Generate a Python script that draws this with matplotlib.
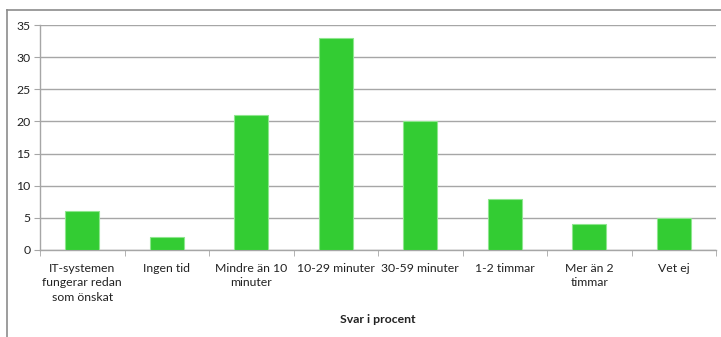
import matplotlib
matplotlib.use("Agg")
import matplotlib.pyplot as plt
from matplotlib.lines import Line2D
import numpy as np

categories = [
    "IT-systemen\nfungerar redan\nsom önskat",
    "Ingen tid",
    "Mindre än 10\nminuter",
    "10-29 minuter",
    "30-59 minuter",
    "1-2 timmar",
    "Mer än 2\ntimmar",
    "Vet ej",
]
values = [6, 2, 21, 33, 20, 8, 4, 5]
y_ticks = [0, 5, 10, 15, 20, 25, 30, 35]
x_title = "Svar i procent"

plt.rcParams["font.family"] = ["Lato", "DejaVu Sans"]

W, H = 721, 337
fig = plt.figure(figsize=(W / 100, H / 100), dpi=100)
ax = fig.add_axes([40 / W, 1 - 250 / H, (716 - 40) / W, (250 - 25) / H])

x = np.arange(len(categories))
ax.bar(x, values, width=0.4, color="#33cc33", edgecolor="#8ee68e", linewidth=0.8, zorder=3)

ax.set_xlim(-0.5, len(categories) - 0.5)
ax.set_ylim(0, 35)
ax.set_yticks(y_ticks)
ax.yaxis.grid(True, color="#a6a6a6", linewidth=1.0, zorder=0)
ax.tick_params(axis="y", length=4, color="#a6a6a6", labelsize=8.8, labelcolor="#222222", pad=3)

ax.set_xticks(x)
ax.set_xticklabels(categories, fontsize=8.8, color="#222222", linespacing=1.4, va="top")
ax.tick_params(axis="x", which="major", length=0, pad=9)
ax.set_xticks(np.arange(-0.5, len(categories)), minor=True)
ax.tick_params(axis="x", which="minor", length=4, color="#a6a6a6")

for side in ("top", "right"):
    ax.spines[side].set_visible(False)
for side in ("left", "bottom"):
    ax.spines[side].set_color("#a6a6a6")
    ax.spines[side].set_linewidth(1.0)

ax.set_xlabel(x_title, fontsize=8.8, fontweight="bold", color="#222222")
ax.xaxis.set_label_coords(0.5, -0.285)

# outer frame of the chart area
fy = 1 - 10 / H
fx = 7 / W
fig.add_artist(Line2D([fx, fx], [0, fy], transform=fig.transFigure, color="#8c8c8c", linewidth=1.2))
fig.add_artist(Line2D([fx, 1], [fy, fy], transform=fig.transFigure, color="#8c8c8c", linewidth=1.2))

fig.savefig("out.png", dpi=100, facecolor="white")
